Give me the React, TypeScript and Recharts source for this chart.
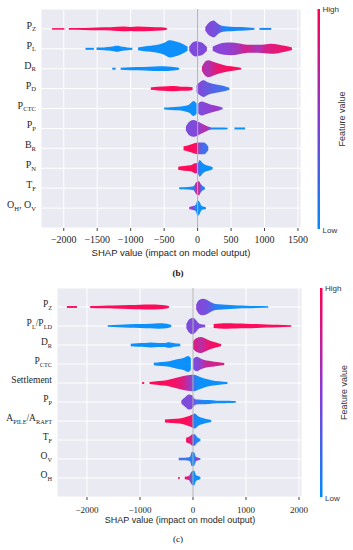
import React from "react";
import { ComposedChart, Area, XAxis, YAxis, CartesianGrid, ReferenceLine } from "recharts";

// each swarm point: [shap value, spread (rows), feature value 0..1]
type Pt = [number, number, number];

const bFeatures = ["P_Z", "P_L", "D_R", "P_D", "P_CTC", "P_P", "B_R", "P_N", "T_F", "O_H, O_V"];
const bTicks = [-2000, -1500, -1000, -500, 0, 500, 1000, 1500];
const bSwarm: Pt[][][] = [
  [
    [[-2175, 0.04, 1], [-1990, 0.04, 1]],
    [[-1925, 0.04, 1], [-1700, 0.05, 1], [-1500, 0.07, 1], [-1300, 0.08, 1], [-1100, 0.12, 1], [-1000, 0.1, 1], [-900, 0.12, 1], [-700, 0.1, 1], [-550, 0.08, 1], [-460, 0.04, 1]],
    [[115, 0.08, 0.5], [150, 0.25, 0.45], [200, 0.38, 0.45], [240, 0.42, 0.42], [290, 0.3, 0.4], [340, 0.18, 0.3], [380, 0.14, 0.1], [450, 0.12, 0.05], [550, 0.1, 0.05], [650, 0.09, 0.05], [760, 0.07, 0.05], [850, 0.04, 0.05]],
    [[925, 0.05, 0.05], [1100, 0.05, 0.05]],
  ],
  [
    [[-1675, 0.05, 0], [-1550, 0.05, 0]],
    [[-1510, 0.06, 0], [-1400, 0.07, 0], [-1300, 0.1, 0], [-1200, 0.15, 0], [-1120, 0.1, 0], [-1050, 0.07, 0], [-975, 0.05, 0]],
    [[-890, 0.07, 0], [-800, 0.12, 0], [-700, 0.15, 0], [-600, 0.2, 0], [-500, 0.3, 0], [-420, 0.43, 0], [-340, 0.38, 0], [-260, 0.3, 0], [-200, 0.2, 0], [-150, 0.1, 0]],
    [[-125, 0.1, 0.45], [-80, 0.3, 0.45], [-30, 0.38, 0.45], [20, 0.35, 0.45], [80, 0.28, 0.45], [140, 0.08, 0.45]],
    [[225, 0.1, 0.5], [300, 0.22, 0.5], [400, 0.3, 0.5], [500, 0.32, 0.55], [600, 0.28, 0.6], [700, 0.22, 0.8], [800, 0.2, 0.75], [900, 0.2, 0.6], [1000, 0.22, 0.8], [1100, 0.25, 0.85], [1200, 0.22, 0.9], [1300, 0.15, 0.95], [1410, 0.06, 0.9]],
  ],
  [
    [[-1275, 0.05, 0], [-1225, 0.05, 0]],
    [[-1150, 0.05, 0], [-1000, 0.08, 0], [-800, 0.09, 0], [-650, 0.11, 0], [-500, 0.12, 0], [-400, 0.1, 0], [-330, 0.08, 0], [-275, 0.04, 0]],
    [[65, 0.1, 0.8], [100, 0.3, 0.7], [160, 0.42, 0.65], [230, 0.35, 0.8], [300, 0.27, 0.9], [400, 0.18, 0.95], [500, 0.12, 1], [600, 0.07, 1], [650, 0.04, 1]],
  ],
  [
    [[-700, 0.06, 1], [-600, 0.09, 1], [-450, 0.12, 1], [-350, 0.13, 1], [-250, 0.1, 1], [-150, 0.1, 1], [-75, 0.07, 1]],
    [[-15, 0.18, 0.45], [40, 0.35, 0.45], [90, 0.42, 0.4], [150, 0.32, 0.35], [220, 0.25, 0.3], [300, 0.2, 0.25], [380, 0.15, 0.2], [475, 0.05, 0.1]],
  ],
  [
    [[-500, 0.05, 0], [-400, 0.07, 0], [-300, 0.09, 0], [-200, 0.13, 0], [-120, 0.22, 0], [-60, 0.38, 0], [-15, 0.25, 0]],
    [[10, 0.25, 0.45], [60, 0.35, 0.45], [110, 0.3, 0.5], [180, 0.22, 0.5], [260, 0.15, 0.6], [320, 0.1, 0.5], [375, 0.04, 0.4]],
  ],
  [
    [[-175, 0.1, 0.45], [-120, 0.35, 0.45], [-60, 0.42, 0.45], [0, 0.35, 0.5], [60, 0.25, 0.6], [120, 0.15, 0.7], [170, 0.08, 0.5], [210, 0.05, 0.1], [330, 0.05, 0], [450, 0.04, 0]],
    [[550, 0.05, 0], [710, 0.05, 0]],
  ],
  [
    [[-210, 0.1, 1], [-150, 0.15, 1], [-80, 0.22, 1], [-20, 0.28, 0.95], [30, 0.3, 0.35], [90, 0.3, 0.2], [130, 0.22, 0.2], [160, 0.08, 0.2]],
  ],
  [
    [[-290, 0.08, 1], [-200, 0.12, 1], [-100, 0.15, 1], [-40, 0.25, 1], [0, 0.25, 0.5], [30, 0.42, 0.05], [80, 0.25, 0], [130, 0.15, 0], [190, 0.1, 0], [225, 0.05, 0]],
  ],
  [
    [[-275, 0.05, 0], [-150, 0.06, 0], [-60, 0.1, 0.1], [-20, 0.3, 0.7], [20, 0.35, 0.8], [50, 0.2, 0.3], [80, 0.1, 0.05], [110, 0.05, 0]],
  ],
  [
    [[-125, 0.06, 0.6], [-70, 0.1, 0.5], [-30, 0.15, 0.1], [0, 0.4, 0], [30, 0.3, 0], [60, 0.1, 0], [110, 0.06, 0], [125, 0.04, 0]],
  ],
];

const cFeatures = ["P_Z", "P_L/P_LD", "D_R", "P_CTC", "Settlement", "P_P", "A_PILE/A_RAFT", "T_F", "O_V", "O_H"];
const cTicks = [-2000, -1000, 0, 1000, 2000];
const cSwarm: Pt[][][] = [
  [
    [[-2380, 0.05, 1], [-2190, 0.05, 1]],
    [[-1940, 0.05, 1], [-1700, 0.07, 1], [-1500, 0.08, 1], [-1200, 0.1, 1], [-1000, 0.12, 1], [-800, 0.13, 1], [-650, 0.12, 1], [-500, 0.08, 1], [-455, 0.05, 1]],
    [[60, 0.12, 0.5], [110, 0.35, 0.45], [180, 0.43, 0.45], [260, 0.38, 0.4], [340, 0.25, 0.3], [420, 0.16, 0.1], [550, 0.13, 0.05], [700, 0.1, 0], [850, 0.08, 0], [1000, 0.07, 0], [1200, 0.05, 0], [1420, 0.04, 0]],
  ],
  [
    [[-1610, 0.04, 0], [-1400, 0.07, 0], [-1200, 0.09, 0], [-1000, 0.1, 0], [-800, 0.12, 0], [-650, 0.14, 0], [-500, 0.12, 0], [-410, 0.05, 0]],
    [[-125, 0.1, 0.45], [-70, 0.35, 0.45], [0, 0.43, 0.45], [60, 0.3, 0.45], [120, 0.12, 0.45], [230, 0.06, 0.45]],
    [[390, 0.1, 1], [500, 0.13, 1], [650, 0.14, 1], [800, 0.13, 1], [1000, 0.12, 1], [1200, 0.1, 1], [1400, 0.08, 1], [1600, 0.06, 1], [1855, 0.04, 1]],
  ],
  [
    [[-1175, 0.07, 0], [-1050, 0.09, 0], [-900, 0.1, 0], [-800, 0.13, 0], [-650, 0.11, 0], [-550, 0.11, 0], [-450, 0.15, 0], [-350, 0.09, 0], [-240, 0.06, 0]],
    [[0, 0.2, 0.85], [60, 0.35, 0.8], [150, 0.42, 0.7], [250, 0.32, 0.85], [350, 0.2, 0.95], [450, 0.12, 1], [530, 0.05, 1]],
  ],
  [
    [[-740, 0.06, 0], [-600, 0.1, 0], [-450, 0.14, 0], [-300, 0.25, 0], [-180, 0.32, 0], [-90, 0.42, 0], [-40, 0.3, 0]],
    [[0, 0.25, 0.45], [70, 0.38, 0.45], [150, 0.28, 0.55], [250, 0.18, 0.75], [350, 0.15, 0.8], [450, 0.1, 0.8], [590, 0.05, 0.9]],
  ],
  [
    [[-960, 0.05, 1], [-920, 0.05, 1]],
    [[-820, 0.05, 1], [-650, 0.1, 1], [-500, 0.15, 1], [-350, 0.25, 0.95], [-200, 0.35, 0.85], [-60, 0.42, 0.6], [20, 0.43, 0.2], [100, 0.35, 0], [200, 0.25, 0], [350, 0.15, 0], [500, 0.09, 0], [650, 0.05, 0]],
  ],
  [
    [[-220, 0.08, 0.45], [-150, 0.25, 0.45], [-80, 0.4, 0.45], [-20, 0.35, 0.45], [20, 0.2, 0.4], [60, 0.13, 0.2], [150, 0.12, 0.1], [300, 0.1, 0.05], [450, 0.07, 0], [600, 0.06, 0], [750, 0.05, 0], [810, 0.04, 0]],
  ],
  [
    [[-530, 0.08, 1], [-400, 0.1, 1], [-250, 0.13, 1], [-120, 0.22, 1], [-30, 0.32, 0.9], [30, 0.4, 0.1], [100, 0.25, 0], [200, 0.15, 0], [300, 0.08, 0], [345, 0.05, 0]],
  ],
  [
    [[-130, 0.12, 1], [-60, 0.2, 0.9], [-10, 0.3, 0.6], [30, 0.3, 0.2], [80, 0.15, 0], [140, 0.05, 0]],
  ],
  [
    [[-270, 0.06, 0.2], [-150, 0.07, 0.2], [-60, 0.1, 0.15], [-20, 0.38, 0.05], [20, 0.35, 0], [60, 0.1, 0.5], [100, 0.07, 0.6], [140, 0.04, 0]],
  ],
  [
    [[-280, 0.05, 1], [-250, 0.05, 1]],
    [[-155, 0.07, 1], [-80, 0.1, 0.8], [-20, 0.35, 0.2], [20, 0.4, 0], [60, 0.15, 0], [100, 0.1, 0], [140, 0.05, 0]],
  ],
];

const LOW = [0, 139, 251];
const MID = [134, 58, 214];
const HIGH = [255, 0, 82];

function featureColor(f: number) {
  const [a, b, t] = f < 0.5 ? [LOW, MID, f * 2] : [MID, HIGH, (f - 0.5) * 2];
  const c = a.map((v, i) => Math.round(v + (b[i] - v) * t));
  return `rgb(${c[0]},${c[1]},${c[2]})`;
}

function buildSeries(swarm: Pt[][][], prefix: string) {
  const n = swarm.length;
  const rows: any[] = [];
  const series: { key: string; stops: { offset: number; color: string }[] }[] = [];
  swarm.forEach((segs, i) => {
    const level = n - 1 - i;
    segs.forEach((seg, j) => {
      const key = `${prefix}${i}_${j}`;
      const x0 = seg[0][0];
      const x1 = seg[seg.length - 1][0];
      seg.forEach(([x, s]) => rows.push({ x, [key]: [level - s, level + s] }));
      series.push({
        key,
        stops: seg.map(([x, , f]) => ({ offset: (x - x0) / (x1 - x0), color: featureColor(f) })),
      });
    });
  });
  rows.sort((a, b) => a.x - b.x);
  return { rows, series };
}

const SERIF = '"Liberation Serif", "DejaVu Serif", serif';
const SANS = '"Liberation Sans", Arial, sans-serif';

function FeatureTick(props: any) {
  const { x, y, payload, names, size } = props;
  const name: string = names[names.length - 1 - payload.value] ?? "";
  const parts = name.split(/(_[A-Z]+)/).filter((p) => p !== "");
  let sub = false;
  return (
    <text x={x} y={y} dy={3.5} textAnchor="end" fontFamily={SERIF} fontSize={size} fill="#262626">
      {parts.map((p, k) => {
        if (p.startsWith("_")) {
          sub = true;
          return (
            <tspan key={k} fontSize={size * 0.66} dy={2.5}>
              {p.slice(1)}
            </tspan>
          );
        }
        const dy = sub ? -2.5 : 0;
        sub = false;
        return (
          <tspan key={k} dy={dy}>
            {p.replace(/ /g, "\u00a0")}
          </tspan>
        );
      })}
    </text>
  );
}

const fmt = (v: number) => (v < 0 ? `\u2212${-v}` : `${v}`);

function ValueTick(props: any) {
  const { x, y, payload, size } = props;
  return (
    <text x={x} y={y} dy={size * 0.75} textAnchor="middle" fontFamily={SERIF} fontSize={size} fill="#262626">
      {fmt(payload.value)}
    </text>
  );
}

function SwarmPanel(props: {
  swarm: Pt[][][];
  names: string[];
  ticks: number[];
  domain: [number, number];
  prefix: string;
  width: number;
  height: number;
  margin: any;
  yWidth: number;
  labelSize: number;
  tickSize: number;
  tickMargin: number;
}) {
  const { rows, series } = buildSeries(props.swarm, props.prefix);
  const n = props.names.length;
  return (
    <ComposedChart width={props.width} height={props.height} data={rows} margin={props.margin}>
      <defs>
        {series.map((s) => (
          <linearGradient key={s.key} id={`g-${s.key}`} x1="0" y1="0" x2="1" y2="0">
            {s.stops.map((st, k) => (
              <stop key={k} offset={st.offset} stopColor={st.color} />
            ))}
          </linearGradient>
        ))}
      </defs>
      <CartesianGrid fill="#EAEAF2" fillOpacity={1} stroke="#ffffff" strokeWidth={1} />
      <XAxis
        dataKey="x"
        type="number"
        domain={props.domain}
        allowDataOverflow
        ticks={props.ticks}
        interval={0}
        axisLine={false}
        tickLine={{ stroke: "#444" }}
        tickSize={3}
        tickMargin={props.tickMargin}
        height={20}
        tick={(p: any) => <ValueTick {...p} size={props.tickSize} />}
      />
      <YAxis
        type="number"
        domain={[-1, n]}
        allowDataOverflow
        ticks={props.names.map((_, i) => i)}
        interval={0}
        axisLine={false}
        tickLine={false}
        tickSize={0}
        tickMargin={5}
        width={props.yWidth}
        tick={(p: any) => <FeatureTick {...p} names={props.names} size={props.labelSize} />}
      />
      <ReferenceLine x={0} stroke="#b0b0b0" strokeWidth={1} />
      {series.map((s) => (
        <Area
          key={s.key}
          dataKey={s.key}
          type="monotone"
          connectNulls
          stroke="none"
          fill={`url(#g-${s.key})`}
          fillOpacity={0.95}
          isAnimationActive={false}
          dot={false}
          activeDot={false}
        />
      ))}
    </ComposedChart>
  );
}

function ColorBar({ x, y0, y1, id, labelX }: { x: number; y0: number; y1: number; id: string; labelX: number }) {
  return (
    <g>
      <defs>
        <linearGradient id={id} x1="0" y1="0" x2="0" y2="1">
          <stop offset="0" stopColor={featureColor(1)} />
          <stop offset="0.5" stopColor={featureColor(0.5)} />
          <stop offset="1" stopColor={featureColor(0)} />
        </linearGradient>
      </defs>
      <rect x={x} y={y0} width={2.5} height={y1 - y0} fill={`url(#${id})`} />
      <text x={x + 5} y={y0 + 3} fontFamily={SANS} fontSize={8} fill="#333">High</text>
      <text x={x + 5} y={y1 + 4} fontFamily={SANS} fontSize={8} fill="#333">Low</text>
      <text
        x={labelX}
        y={(y0 + y1) / 2}
        transform={`rotate(-90 ${labelX} ${(y0 + y1) / 2})`}
        textAnchor="middle"
        fontFamily={SANS}
        fontSize={9}
        fill="#333"
      >
        Feature value
      </text>
    </g>
  );
}

export default function App() {
  return (
    <div style={{ position: "absolute", left: 0, top: 0, width: 353, height: 550, background: "#fff", overflow: "hidden" }}>
      <div style={{ position: "absolute", left: 0, top: 0 }}>
        <SwarmPanel
          swarm={bSwarm}
          names={bFeatures}
          ticks={bTicks}
          domain={[-2340, 1545]}
          prefix="b"
          width={353}
          height={290}
          margin={{ top: 9, right: 52, bottom: 42, left: 0 }}
          yWidth={41}
          labelSize={10}
          tickSize={10}
          tickMargin={4}
        />
      </div>
      <div style={{ position: "absolute", left: 0, top: 280 }}>
        <SwarmPanel
          swarm={cSwarm}
          names={cFeatures}
          ticks={cTicks}
          domain={[-2566, 2057]}
          prefix="c"
          width={353}
          height={270}
          margin={{ top: 8, right: 51, bottom: 33, left: 0 }}
          yWidth={57}
          labelSize={9.5}
          tickSize={9}
          tickMargin={6}
        />
      </div>
      <svg width={353} height={550} style={{ position: "absolute", left: 0, top: 0, pointerEvents: "none" }}>
        <ColorBar x={317.5} y0={9} y1={229} id="cb-b" labelX={345} />
        <ColorBar x={320} y0={288} y1={497} id="cb-c" labelX={347} />
        <text x={171} y={256} textAnchor="middle" fontFamily={SANS} fontSize={9.5} fill="#262626">
          SHAP value (impact on model output)
        </text>
        <text x={178} y={276} textAnchor="middle" fontFamily={SERIF} fontSize={9} fontWeight="bold" fill="#111">
          (b)
        </text>
        <text x={180} y={523} textAnchor="middle" fontFamily={SANS} fontSize={9} fill="#262626">
          SHAP value (impact on model output)
        </text>
        <text x={178} y={542} textAnchor="middle" fontFamily={SERIF} fontSize={9} fill="#111">
          (c)
        </text>
      </svg>
    </div>
  );
}
